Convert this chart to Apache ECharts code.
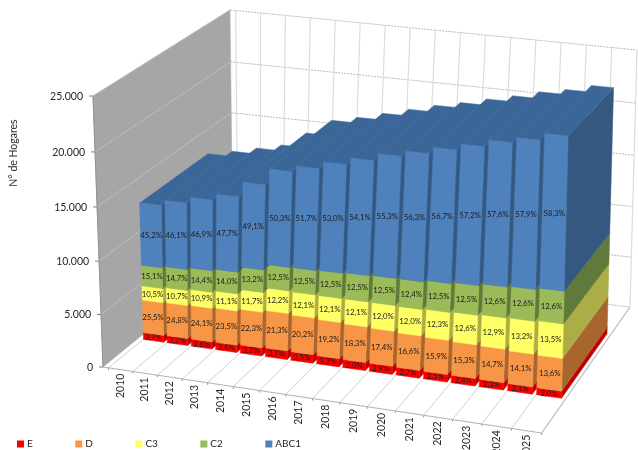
<!DOCTYPE html>
<html><head><meta charset="utf-8">
<style>html,body{margin:0;padding:0;background:#fff}#c{width:638px;height:450px}</style>
<script src="https://cdn.jsdelivr.net/npm/echarts@6/dist/echarts.min.js"></script>
</head><body><div id="c"></div>
<script>
const categories=['2010','2011','2012','2013','2014','2015','2016','2017','2018','2019','2020','2021','2022','2023','2024','2025'];
const totals=[13080,13580,14160,14730,16120,17600,18140,18780,19410,20030,20550,21160,21680,22280,22780,23370];
const pctE=[3.7,3.7,3.6,3.6,3.7,3.7,3.5,3.2,3.0,2.9,2.7,2.5,2.4,2.3,2.1,2.0];
const pctD=[25.5,24.8,24.1,23.5,22.3,21.3,20.2,19.2,18.3,17.4,16.6,15.9,15.3,14.7,14.1,13.6];
const pctC3=[10.5,10.7,10.9,11.1,11.7,12.2,12.1,12.1,12.1,12.0,12.0,12.3,12.6,12.9,13.2,13.5];
const pctC2=[15.1,14.7,14.4,14.0,13.2,12.5,12.5,12.5,12.5,12.5,12.4,12.5,12.5,12.6,12.6,12.6];
const pctABC1=[45.2,46.1,46.9,47.7,49.1,50.3,51.7,53.0,54.1,55.3,56.3,56.7,57.2,57.6,57.9,58.3];
const yTicks=[0,5000,10000,15000,20000,25000];
const yTickLabels=['0','5.000','10.000','15.000','20.000','25.000'];
const redLift=180; // the red plate reads a little thicker in the picture than its share
const layers=[
 {name:'E',pct:pctE,front:'#F80000',side:'#C00000',top:'#D00000'},
 {name:'D',pct:pctD,front:'#F79646',side:'#A8662E',top:'#B87030'},
 {name:'C3',pct:pctC3,front:'#FFFF66',side:'#ADAD48',top:'#C0C050'},
 {name:'C2',pct:pctC2,front:'#9BBB59',side:'#5F7A3A',top:'#6C8A40'},
 {name:'ABC1',pct:pctABC1,front:'#4F81BD',side:'#34587F',top:'#3B6698'}
];
const G={left:60,top:60,width:500,height:186};
function quad(q){const [p0,p1,p2,p3]=q;
 const dx1=p1[0]-p2[0],dx2=p3[0]-p2[0],sx=p0[0]-p1[0]+p2[0]-p3[0];
 const dy1=p1[1]-p2[1],dy2=p3[1]-p2[1],sy=p0[1]-p1[1]+p2[1]-p3[1];
 const den=dx1*dy2-dx2*dy1,g=(sx*dy2-dx2*sy)/den,h=(dx1*sy-sx*dy1)/den;
 const a=p1[0]-p0[0]+g*p1[0],b=p3[0]-p0[0]+h*p3[0],d=p1[1]-p0[1]+g*p1[1],e=p3[1]-p0[1]+h*p3[1];
 return (u,w)=>{const k=g*u+h*w+1;return [(a*u+b*w+p0[0])/k,(d*u+e*w+p0[1])/k];};
}
const floorQ=quad([[103,367],[541.7,433],[630,307],[233,261]]);
const topQ=quad([[93,96],[549,142],[637,50],[230,10]]);
function P(u,d,t){const a=floorQ(u,d),b=topQ(u,d),s=t/(t+1.04*(1-t));return [a[0]+(b[0]-a[0])*s,a[1]+(b[1]-a[1])*s];}
const uOf=px=>(px-G.left)/G.width, tOf=py=>(G.top+G.height-py)/G.height;
const D0=0.245,D1=0.76,BAR=0.85,U_SHIFT=-0.004;
const poly=(points,fill,stroke)=>({type:'polygon',shape:{points},style:{fill,stroke:stroke||fill,lineWidth:0.5},silent:true});
const line=(a,b,stroke,w,dash)=>({type:'line',shape:{x1:a[0],y1:a[1],x2:b[0],y2:b[1]},style:{stroke,lineWidth:w,lineDash:dash||null},silent:true});
function layerSeries(L,idx){
 const data=categories.map((c,i)=>{
  let base=0;for(let k=0;k<idx;k++)base+=totals[i]*layers[k].pct[i]/100;
  let end=base+totals[i]*L.pct[i]/100;
  if(idx===0) end+=redLift; if(idx===1) base+=redLift;
  return [i,base,end,L.pct[i]];});
 return {type:'custom',name:L.name,coordinateSystem:'cartesian2d',itemStyle:{color:L.front},z:3,silent:true,animation:false,
  encode:{x:0,y:2},data,
  renderItem(params,api){
   const i=api.value(0),a=api.coord([i,api.value(1)]),b=api.coord([i,api.value(2)]),bw=api.size([1,0])[0]*BAR/G.width;
   const uc=uOf(a[0])+U_SHIFT,u0=uc-bw/2,u1=uc+bw/2,t0=tOf(a[1]),t1=tOf(b[1]);
   const f=[P(u0,D0,t0),P(u1,D0,t0),P(u1,D0,t1),P(u0,D0,t1)];
   const s=[P(u1,D0,t0),P(u1,D1,t0),P(u1,D1,t1),P(u1,D0,t1)];
   const ch=[poly(s,L.side)];
   if(idx===layers.length-1) ch.push(poly([P(u0,D0,t1),P(u1,D0,t1),P(u1,D1,t1),P(u0,D1,t1)],L.top,'#4E79AA'));
   ch.push(poly(f,L.front));
   const c=P(uc,D0,(t0+t1)/2);
   ch.push({type:'text',x:c[0],y:c[1],silent:true,style:{text:api.value(3).toFixed(1).replace('.',',')+'%',fill:'#1c1c1c',font:'7.8px Lato',align:'center',verticalAlign:'middle'}});
   return {type:'group',children:ch};
  }};
}
const frame={type:'custom',coordinateSystem:'cartesian2d',z:1,silent:true,animation:false,encode:{x:0,y:1},
 data:[[0,0]],
 renderItem(params,api){
  const ch=[poly([P(0,0,0),P(0,1,0),P(0,1,1),P(0,0,1)],'#A6A6A6')];
  yTicks.forEach((v,k)=>{
   const t=tOf(api.coord([0,v])[1]);
   if(k>0) ch.push(line(P(0,0,t),P(0,1,t),'#BDBDBD',1));
   ch.push(line(P(0,1,t),P(1,1,t),'#BBBBBB',1,[2,1]));
   const p=P(0,0,t);
   ch.push(line([p[0]-4,p[1]],p,'#808080',1));
   ch.push({type:'text',x:p[0]-10,y:p[1]+0.5,silent:true,style:{text:yTickLabels[k],fill:'#262626',font:'10.5px Lato',align:'right',verticalAlign:'middle'}});
  });
  const half=api.size([1,0])[0]/2;
  for(let i=0;i<=categories.length;i++){
   const u=uOf(api.coord([Math.min(i,categories.length-1),0])[0]+(i===categories.length?half:-half));
   ch.push(line(P(u,0,0),P(u,1,0),'#D0D0D0',1));
   ch.push(line(P(u,1,0),P(u,1,1),'#DDDDDD',1.2));
   ch.push(line(P(u,0,0),[P(u,0,0)[0],P(u,0,0)[1]+2],'#909090',1));
   if(i<categories.length){
    const q=P(uOf(api.coord([i,0])[0]),0,0);
    ch.push({type:'text',x:q[0],y:q[1]+4,rotation:Math.PI/2,silent:true,style:{text:categories[i],fill:'#262626',font:'10.5px Lato',align:'right',verticalAlign:'middle'}});
   }
  }
  ch.push(line(P(0,0,0),P(1,0,0),'#B0B0B0',1));
  ch.push(line(P(1,0,0),P(1,1,0),'#C0C0C0',1.2));
  ch.push(line(P(0,0,0),P(0,0,1),'#909090',1));
  return {type:'group',children:ch};
 }};
const chart=echarts.init(document.getElementById('c'),null,{renderer:'canvas'});
chart.setOption({
 animation:false,backgroundColor:'#fff',
 grid:G,
 xAxis:{type:'category',data:categories,show:false},
 yAxis:{type:'value',min:0,max:25000,interval:5000,name:'N° de Hogares',nameLocation:'middle',nameRotate:90,nameGap:48,
  nameTextStyle:{fontFamily:'Lato',fontSize:10.5,color:'#262626'},
  axisLine:{show:false},axisTick:{show:false},axisLabel:{show:false},splitLine:{show:false}},
 legend:{left:12,top:434,itemWidth:7,itemHeight:7,itemGap:42.5,icon:'rect',textStyle:{fontFamily:'Lato',fontSize:10,color:'#262626',padding:[0,0,0,-2]},
  data:layers.map(l=>l.name),selectedMode:false},
 series:[frame].concat(layers.map(layerSeries))
});
</script></body></html>
